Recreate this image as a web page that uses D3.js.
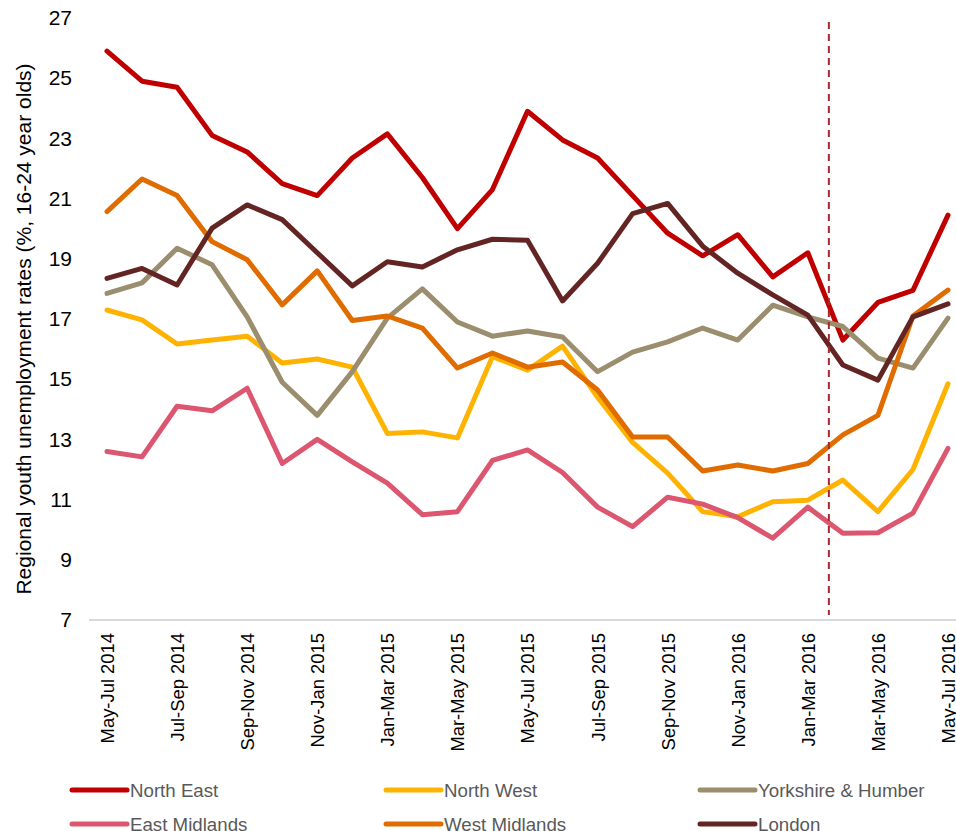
<!DOCTYPE html>
<html>
<head>
<meta charset="utf-8">
<script src="https://cdnjs.cloudflare.com/ajax/libs/d3/7.8.5/d3.min.js"></script>
<style>
  body { margin: 0; background: #fff; }
  text { font-family: "Liberation Sans", Arial, sans-serif; }
</style>
</head>
<body>
<script>
'use strict';

// rolling three-month periods
const periods = [
  "May-Jul 2014", "Jun-Aug 2014", "Jul-Sep 2014", "Aug-Oct 2014", "Sep-Nov 2014",
  "Oct-Dec 2014", "Nov-Jan 2015", "Dec-Feb 2015", "Jan-Mar 2015", "Feb-Apr 2015",
  "Mar-May 2015", "Apr-Jun 2015", "May-Jul 2015", "Jun-Aug 2015", "Jul-Sep 2015",
  "Aug-Oct 2015", "Sep-Nov 2015", "Oct-Dec 2015", "Nov-Jan 2016", "Dec-Feb 2016",
  "Jan-Mar 2016", "Feb-Apr 2016", "Mar-May 2016", "Apr-Jun 2016", "May-Jul 2016"
]

const regions = ["North East", "North West", "Yorkshire & Humber", "East Midlands", "West Midlands", "London"]

const northEast = [25.9, 24.9, 24.7, 23.1, 22.55, 21.5, 21.1, 22.35, 23.15, 21.7, 20.0, 21.3, 23.9, 22.95, 22.35, 21.1, 19.85, 19.1, 19.8, 18.4, 19.2, 16.3, 17.55, 17.95, 20.45]
const northWest = [17.3, 16.97, 16.17, 16.3, 16.43, 15.54, 15.67, 15.4, 13.2, 13.25, 13.05, 15.75, 15.3, 16.1, 14.4, 12.9, 11.88, 10.6, 10.43, 10.93, 10.98, 11.65, 10.6, 12.0, 14.85]
const yorkshire = [17.85, 18.2, 19.35, 18.8, 17.07, 14.9, 13.8, 15.25, 17.03, 18.0, 16.9, 16.43, 16.6, 16.4, 15.25, 15.9, 16.24, 16.7, 16.3, 17.46, 17.07, 16.75, 15.7, 15.37, 17.03]
const eastMidlands = [12.6, 12.42, 14.1, 13.95, 14.7, 12.2, 13.0, 12.25, 11.55, 10.5, 10.6, 12.3, 12.65, 11.9, 10.75, 10.1, 11.08, 10.85, 10.4, 9.72, 10.75, 9.88, 9.9, 10.55, 12.7]
const westMidlands = [20.57, 21.65, 21.1, 19.57, 18.97, 17.47, 18.6, 16.95, 17.1, 16.7, 15.37, 15.87, 15.4, 15.57, 14.64, 13.08, 13.08, 11.95, 12.15, 11.95, 12.2, 13.15, 13.8, 17.1, 17.96]
const london = [18.35, 18.68, 18.13, 20.02, 20.79, 20.3, 19.2, 18.1, 18.9, 18.73, 19.3, 19.65, 19.62, 17.6, 18.85, 20.5, 20.84, 19.42, 18.52, 17.8, 17.13, 15.47, 14.97, 17.07, 17.5]

const seriesValues = [northEast, northWest, yorkshire, eastMidlands, westMidlands, london]

const colors = {
  "North East": "#c00000",
  "North West": "#ffb300",
  "Yorkshire & Humber": "#9b8e6e",
  "East Midlands": "#dc5670",
  "West Midlands": "#e06c00",
  "London": "#632523"
}

const yTicks = [7, 9, 11, 13, 15, 17, 19, 21, 23, 25, 27]
const yTitle = "Regional youth unemployment rates (%, 16-24 year olds)"

// vertical marker sits a little past Jan-Mar 2016
const markerPeriod = "Jan-Mar 2016"
const markerOffset = 0.6

const m = {
  width: 956,
  height: 831,
  left: 107,
  right: 948,
  top: 18,
  bottom: 620
}

const svg = d3.select('body')
  .append('svg')
  .attr('width', m.width)
  .attr('height', m.height)

const xScale = d3.scalePoint()
  .domain(periods)
  .range([m.left, m.right])

const yScale = d3.scaleLinear()
  .domain([7, 27])
  .range([m.bottom, m.top])

// y axis: labels only, no line
const yAxis = d3.axisLeft(yScale)
  .tickValues(yTicks)
  .tickSize(0)
  .tickPadding(0)
const gy = svg.append('g')
  .attr('transform', 'translate(72, 0)')
  .call(yAxis)
gy.select('.domain').remove()
gy.selectAll('text')
  .style('font-size', '21px')
  .style('font-family', '"Liberation Sans", Arial, sans-serif')
  .attr('fill', '#000')

// x axis baseline
svg.append('line')
  .attr('x1', 89)
  .attr('x2', m.width)
  .attr('y1', yScale(7))
  .attr('y2', yScale(7))
  .attr('stroke', '#d9d9d9')
  .attr('stroke-width', 2)

// x tick labels, every second period, rotated
const xAxis = d3.axisBottom(xScale)
  .tickValues(periods.filter((d, i) => i % 2 === 0))
  .tickSize(0)
  .tickPadding(0)
const gx = svg.append('g')
  .attr('transform', 'translate(0, ' + yScale(7) + ')')
  .call(xAxis)
gx.select('.domain').remove()
gx.selectAll('text')
  .attr('transform', 'translate(0, 13) rotate(-90)')
  .attr('x', 0)
  .attr('y', 0)
  .attr('dy', '0.35em')
  .style('text-anchor', 'end')
  .style('font-size', '18.4px')
  .style('font-family', '"Liberation Sans", Arial, sans-serif')
  .attr('fill', '#000')

// y title
svg.append('text')
  .attr('transform', 'translate(31, 329) rotate(-90)')
  .attr('text-anchor', 'middle')
  .style('font-size', '21px')
  .attr('fill', '#000')
  .text(yTitle)

// lines
const line = d3.line()
  .x((d, i) => xScale(periods[i]))
  .y(d => yScale(d))

regions.forEach((name, k) => {
  svg.append('path')
    .datum(seriesValues[k])
    .attr('d', line)
    .attr('fill', 'none')
    .attr('stroke', colors[name])
    .attr('stroke-width', 5)
    .attr('stroke-linejoin', 'round')
    .attr('stroke-linecap', 'round')
})

// dashed marker
const markerX = xScale(markerPeriod) + markerOffset * xScale.step()
svg.append('line')
  .attr('x1', markerX)
  .attr('x2', markerX)
  .attr('y1', yScale(26.87))
  .attr('y2', yScale(7.17))
  .attr('stroke', '#a8282e')
  .attr('stroke-width', 2)
  .attr('stroke-dasharray', '7,5')

// legend, three columns by two rows
const legendCols = [72, 386, 700]
const legendRows = [790, 824]
regions.forEach((name, k) => {
  const lx = legendCols[k % 3]
  const ly = legendRows[Math.floor(k / 3)]
  svg.append('line')
    .attr('x1', lx)
    .attr('x2', lx + 55)
    .attr('y1', ly)
    .attr('y2', ly)
    .attr('stroke', colors[name])
    .attr('stroke-width', 5)
    .attr('stroke-linecap', 'round')
  svg.append('text')
    .attr('x', lx + 58)
    .attr('y', ly)
    .attr('dy', '0.35em')
    .style('font-size', '18.7px')
    .attr('fill', '#595959')
    .text(name)
})
</script>
</body>
</html>
